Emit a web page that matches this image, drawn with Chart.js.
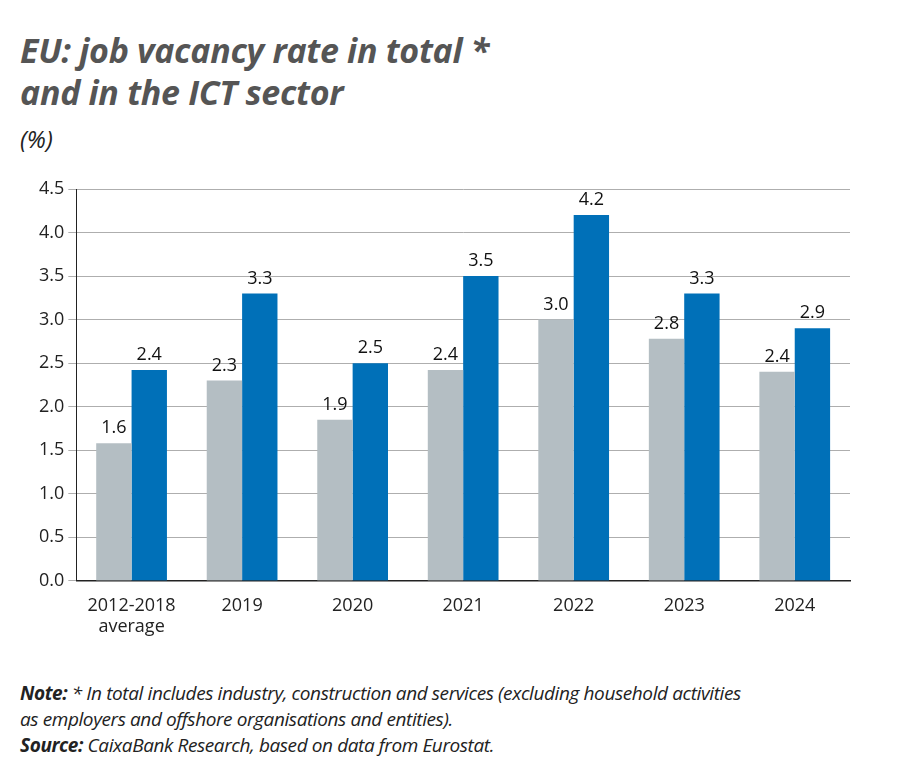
<!DOCTYPE html>
<html><head><meta charset="utf-8">
<script src="https://cdn.jsdelivr.net/npm/chart.js@4"></script>
<style>
body{margin:0;width:900px;height:777px;background:#fff;font-family:"Open Sans",sans-serif;position:relative;overflow:hidden}
#t{position:absolute;left:20px;top:29px;font-size:34px;font-weight:bold;font-style:italic;color:#555;line-height:42px;letter-spacing:-0.3px}
#u{position:absolute;left:20px;top:122px;font-size:24px;font-style:italic;color:#222}
#c{position:absolute;left:0;top:170px;width:870px;height:474px}
#n{position:absolute;left:20px;top:680px;font-size:19px;font-style:italic;color:#222;line-height:26px;letter-spacing:-0.4px}
</style></head><body>
<div id="t">EU: job vacancy rate in total *<br>and in the ICT sector</div>
<div id="u">(%)</div>
<div id="c"><canvas id="cv"></canvas></div>
<div id="n"><b>Note:</b> * In total includes industry, construction and services (excluding household activities<br>as employers and offshore organisations and entities).<br><b>Source:</b> CaixaBank Research, based on data from Eurostat.</div>
<script>
const categories=[["2012-2018","average"],"2019","2020","2021","2022","2023","2024"];
const totalVals=[1.58,2.3,1.85,2.42,3.0,2.78,2.4];
const ictVals=[2.42,3.3,2.5,3.5,4.2,3.3,2.9];
const yTicks=[0,0.5,1,1.5,2,2.5,3,3.5,4,4.5];
const labelsPlugin={id:'lbl',afterDatasetsDraw(ch){const ctx=ch.ctx;ctx.save();ctx.font='18px "Open Sans"';ctx.fillStyle='#111';ctx.textAlign='center';ctx.textBaseline='bottom';
ch.data.datasets.forEach((d,i)=>{ch.getDatasetMeta(i).data.forEach((b,j)=>{ctx.fillText(d.data[j].toFixed(1),b.x,b.y-6);});});ctx.restore();}};
new Chart(document.getElementById('cv'),{type:'bar',
data:{labels:categories,datasets:[
{label:'Total',data:totalVals,backgroundColor:'#b4bec3',categoryPercentage:0.64,barPercentage:1},
{label:'ICT',data:ictVals,backgroundColor:'#0070b8',categoryPercentage:0.64,barPercentage:1}]},
options:{responsive:true,maintainAspectRatio:false,animation:false,
layout:{padding:{top:19,right:20,left:35}},
plugins:{legend:{display:false},tooltip:{enabled:false}},
scales:{
x:{grid:{display:false},border:{color:'#222',width:1.5},ticks:{color:'#222',font:{size:18,family:'Open Sans'},padding:6}},
y:{min:0,max:4.5,afterBuildTicks(a){a.ticks=yTicks.map(v=>({value:v}));},
grid:{color:'#999',lineWidth:0.8,tickLength:8,drawTicks:true},border:{display:true,color:'#222'},
ticks:{color:'#222',font:{size:18,family:'Open Sans'},callback:v=>v.toFixed(1),padding:4}}}},
plugins:[labelsPlugin]});
</script></body></html>
